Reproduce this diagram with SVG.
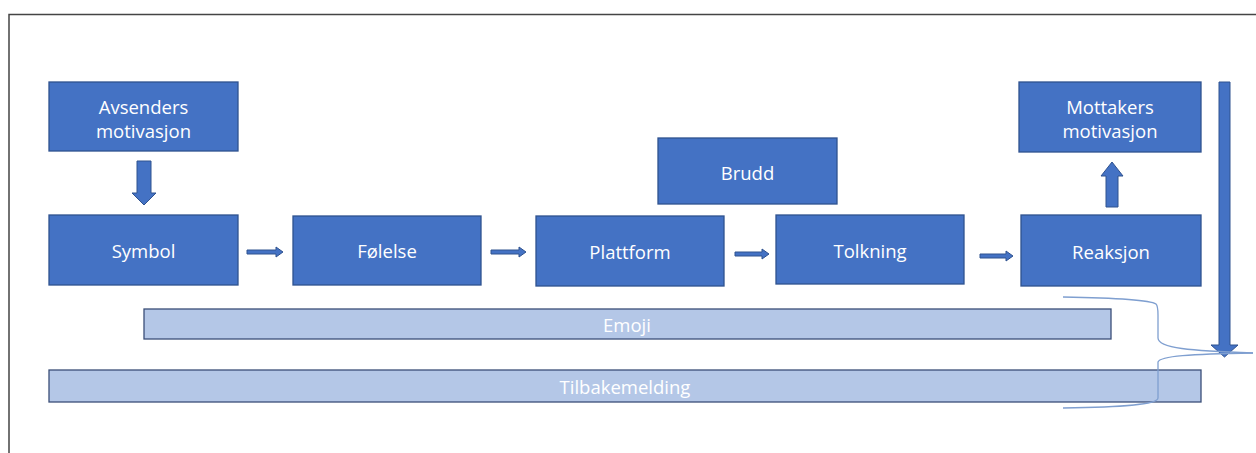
<svg xmlns="http://www.w3.org/2000/svg" width="1256" height="453" viewBox="0 0 1256 453">
<style>
.box{fill:#4472c4;stroke:#2f528f;stroke-width:1.3}
.bar{fill:#b4c7e7;stroke:#3b4f78;stroke-width:1.3}
.t{font-family:"Open Sans","Liberation Sans",sans-serif;font-size:18.5px;fill:#fff;text-anchor:middle;dominant-baseline:central}
.arr{fill:#4472c4;stroke:#2f528f;stroke-width:1}
.brace{fill:none;stroke:#7f9fd0;stroke-width:1.3}
</style>
<rect x="0" y="0" width="1256" height="453" fill="#fff"/>
<path d="M9,453 V14.5 H1256" fill="none" stroke="#444" stroke-width="1.5"/>
<g id="n-avsenders"><rect class="box" x="49" y="82" width="189" height="69"/><text class="t" x="143.5" y="106">Avsenders</text><text class="t" x="143.5" y="130">motivasjon</text></g>
<g id="n-symbol"><rect class="box" x="49" y="215" width="189" height="70"/><text class="t" x="143.5" y="250">Symbol</text></g>
<g id="n-folelse"><rect class="box" x="293" y="216" width="188" height="69"/><text class="t" x="387" y="250">Følelse</text></g>
<g id="n-plattform"><rect class="box" x="536" y="216" width="188" height="70"/><text class="t" x="630" y="251">Plattform</text></g>
<g id="n-brudd"><rect class="box" x="658" y="138" width="179" height="66"/><text class="t" x="747.5" y="172">Brudd</text></g>
<g id="n-tolkning"><rect class="box" x="776" y="215" width="188" height="69"/><text class="t" x="870" y="250">Tolkning</text></g>
<g id="n-reaksjon"><rect class="box" x="1021" y="215" width="180" height="71"/><text class="t" x="1111" y="251">Reaksjon</text></g>
<g id="n-mottakers"><rect class="box" x="1019" y="82" width="182" height="70"/><text class="t" x="1110" y="106">Mottakers</text><text class="t" x="1110" y="130">motivasjon</text></g>
<g id="n-emoji"><rect class="bar" x="144" y="309" width="967" height="30"/><text class="t" x="627" y="324">Emoji</text></g>
<g id="n-tilbakemelding"><rect class="bar" x="49" y="370" width="1152" height="32"/><text class="t" x="625" y="386">Tilbakemelding</text></g>
<g id="connectors">
<path class="arr" d="M137,161 H151 V193 H156 L144,205 L132,193 H137 Z"/>
<path class="arr" d="M1106,207 H1118 V176 H1123 L1112,162 L1101,176 H1106 Z"/>
<path class="arr" d="M247,250 H276 V247 L283,252 L276,257 V254 H247 Z"/>
<path class="arr" d="M491,250 H519 V247 L526,252 L519,257 V254 H491 Z"/>
<path class="arr" d="M735,252 H762 V249 L769,254 L762,259 V256 H735 Z"/>
<path class="arr" d="M980,254 H1006 V251 L1013,256 L1006,261 V258 H980 Z"/>
<path class="arr" d="M1219,82 H1230 V345 H1238 L1224.5,357 L1211,345 H1219 Z"/>
<path class="brace" d="M1063,297 C1120,298 1150,300 1156,304 C1158,306 1158,310 1158,315 V338 C1158,348 1190,351 1253,353"/>
<path class="brace" d="M1253,353 C1190,354 1160,356 1158,362 V398 C1158,405 1120,407 1063,408"/>
</g>
</svg>
